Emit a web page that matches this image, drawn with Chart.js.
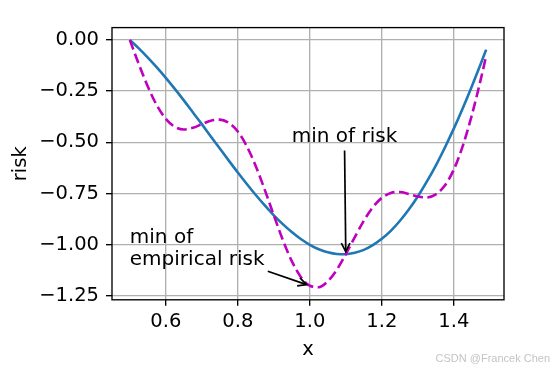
<!DOCTYPE html>
<html>
<head>
<meta charset="utf-8">
<script src="https://cdn.jsdelivr.net/npm/chart.js@4/dist/chart.umd.min.js"></script>
<style>
html,body{margin:0;padding:0;background:#fff;}
canvas{display:block;}
</style>
</head>
<body>
<canvas id="c" width="554" height="369"></canvas>
<script>
// ---- data ----
const xValues = [0.5,0.525,0.55,0.575,0.6,0.625,0.65,0.675,0.7,0.725,0.75,0.775,0.8,0.825,0.85,0.875,0.9,0.925,0.95,0.975,1.0,1.025,1.05,1.075,1.1,1.125,1.15,1.175,1.2,1.225,1.25,1.275,1.3,1.325,1.35,1.375,1.4,1.425,1.45,1.475,1.49];
const riskValues = [0,-0.041,-0.086,-0.134,-0.185,-0.239,-0.295,-0.353,-0.411,-0.471,-0.530,-0.589,-0.647,-0.703,-0.757,-0.808,-0.856,-0.899,-0.938,-0.972,-1.000,-1.022,-1.037,-1.045,-1.046,-1.039,-1.025,-1.002,-0.971,-0.932,-0.884,-0.828,-0.764,-0.692,-0.613,-0.526,-0.433,-0.333,-0.227,-0.116,-0.047];
const empiricalValues = [0,-0.118,-0.227,-0.319,-0.385,-0.424,-0.437,-0.429,-0.411,-0.394,-0.389,-0.405,-0.447,-0.519,-0.616,-0.732,-0.856,-0.976,-1.080,-1.157,-1.200,-1.207,-1.178,-1.122,-1.046,-0.963,-0.883,-0.817,-0.771,-0.747,-0.742,-0.752,-0.764,-0.769,-0.754,-0.711,-0.633,-0.517,-0.368,-0.192,-0.078];
const xTickValues = [0.6,0.8,1.0,1.2,1.4];
const xTickLabels = ['0.6','0.8','1.0','1.2','1.4'];
const yTickValues = [0,-0.25,-0.5,-0.75,-1.0,-1.25];
const yTickLabels = ['0.00','\u22120.25','\u22120.50','\u22120.75','\u22121.00','\u22121.25'];
const annotationTexts = [['min of','empirical risk'], ['min of risk']];
const annotationPoints = [[1.0,-1.2],[1.1,-1.05]];
const annotationTextPos = [[0.5,-1.1],[0.95,-0.5]];
const xLabel = 'x';
const yLabel = 'risk';
const watermark = 'CSDN @Francek Chen';

// ---- chart ----
const FONT = 'DejaVu Sans';
const FS = 19.5;
const AFS = 20;
Chart.defaults.color = '#000';
Chart.defaults.font.family = FONT;

const toXY = (ys) => xValues.map((x,i)=>({x:x, y:ys[i]}));

const overlay = {
  id: 'overlay',
  afterDatasetsDraw(chart) {
    const ctx = chart.ctx;
    const xs = chart.scales.x, ys = chart.scales.y;
    const a = chart.chartArea;
    ctx.save();
    ctx.font = AFS + 'px "' + FONT + '"';
    ctx.fillStyle = '#000';
    ctx.textAlign = 'left';
    ctx.textBaseline = 'alphabetic';
    const lh = AFS * 1.1;
    annotationTexts.forEach((lines, k) => {
      const tx = xs.getPixelForValue(annotationTextPos[k][0]);
      const ty = ys.getPixelForValue(annotationTextPos[k][1]);
      const n = lines.length;
      let w = 0;
      lines.forEach((ln, i) => {
        const by = ty - (n-1-i)*lh;
        ctx.fillText(ln, tx, by);
        w = Math.max(w, ctx.measureText(ln).width);
      });
      const top = ty - (n-1)*lh - 0.76*AFS;
      const bottom = ty + 0.24*AFS;
      const px = xs.getPixelForValue(annotationPoints[k][0]);
      const py = ys.getPixelForValue(annotationPoints[k][1]);
      const xc = [tx, tx + w/2, tx + w];
      const yc = [top, (top+bottom)/2, bottom];
      const sx0 = xc.reduce((b,v)=> Math.abs(v-px) < Math.abs(b-px) ? v : b);
      const sy0 = yc.reduce((b,v)=> Math.abs(v-py) < Math.abs(b-py) ? v : b);
      const dx = px-sx0, dy = py-sy0;
      const len = Math.hypot(dx,dy);
      const ux = dx/len, uy = dy/len;
      const shrink = 3.4;
      const sx = sx0 + ux*shrink, sy = sy0 + uy*shrink;
      const ex = px - ux*shrink, ey = py - uy*shrink;
      ctx.strokeStyle = '#000';
      ctx.lineWidth = 1.7;
      ctx.lineCap = 'butt';
      ctx.beginPath();
      ctx.moveTo(sx, sy); ctx.lineTo(ex, ey);
      ctx.stroke();
      const hl = 8.5, hwid = 4.3;
      ctx.beginPath();
      ctx.moveTo(ex - ux*hl - uy*hwid, ey - uy*hl + ux*hwid);
      ctx.lineTo(ex, ey);
      ctx.lineTo(ex - ux*hl + uy*hwid, ey - uy*hl - ux*hwid);
      ctx.stroke();
    });
    ctx.strokeStyle = '#000';
    ctx.lineWidth = 1.35;
    ctx.strokeRect(a.left, a.top, a.right-a.left, a.bottom-a.top);
    ctx.restore();
  },
  afterDraw(chart) {
    const ctx = chart.ctx;
    ctx.save();
    ctx.font = '11px "Liberation Sans"';
    ctx.fillStyle = '#c4c4c4';
    ctx.textAlign = 'right';
    ctx.textBaseline = 'alphabetic';
    ctx.fillText(watermark, 550, 362);
    ctx.restore();
  }
};

new Chart(document.getElementById('c'), {
  type: 'line',
  data: {
    datasets: [
      {
        label: 'risk',
        data: toXY(riskValues),
        borderColor: '#1f77b4',
        borderWidth: 2.6,
        pointRadius: 0,
        fill: false,
        cubicInterpolationMode: 'monotone',
        order: 1
      },
      {
        label: 'empirical risk',
        data: toXY(empiricalValues),
        borderColor: '#bf00bf',
        borderWidth: 2.6,
        borderDash: [10, 4.5],
        pointRadius: 0,
        fill: false,
        cubicInterpolationMode: 'monotone',
        order: 0
      }
    ]
  },
  options: {
    responsive: false,
    animation: false,
    devicePixelRatio: 1,
    layout: { padding: { left: 0, right: 50, top: 27.6, bottom: 0 } },
    plugins: { legend: { display: false }, tooltip: { enabled: false } },
    scales: {
      x: {
        type: 'linear',
        min: 0.4505,
        max: 1.5395,
        afterBuildTicks(s) { s.ticks = xTickValues.map(v => ({value: v})); },
        afterFit(s) { s.height = 69.2; },
        ticks: {
          autoSkip: false,
          maxRotation: 0,
          padding: 4,
          font: { size: FS, family: FONT },
          color: '#000',
          callback(v) { const i = xTickValues.findIndex(t => Math.abs(t - v) < 1e-9); return i >= 0 ? xTickLabels[i] : ''; }
        },
        grid: { color: '#b0b0b0', lineWidth: 1.35, tickColor: '#000', tickLength: 6, tickWidth: 1.35, drawTicks: true },
        border: { display: false },
        title: { display: true, text: xLabel, font: { size: FS, family: FONT }, color: '#000', padding: { top: 0, bottom: 7.5 } }
      },
      y: {
        type: 'linear',
        min: -1.2686,
        max: 0.0604,
        afterBuildTicks(s) { s.ticks = yTickValues.map(v => ({value: v})); },
        afterFit(s) { s.width = 112; },
        ticks: {
          autoSkip: false,
          padding: 7,
          font: { size: FS, family: FONT },
          color: '#000',
          callback(v) { const i = yTickValues.findIndex(t => Math.abs(t - v) < 1e-9); return i >= 0 ? yTickLabels[i] : ''; }
        },
        grid: { color: '#b0b0b0', lineWidth: 1.35, tickColor: '#000', tickLength: 6, tickWidth: 1.35, drawTicks: true },
        border: { display: false },
        title: { display: true, text: yLabel, font: { size: FS, family: FONT }, color: '#000', padding: { top: 9, bottom: 0 } }
      }
    }
  },
  plugins: [overlay]
});
</script>
</body>
</html>
